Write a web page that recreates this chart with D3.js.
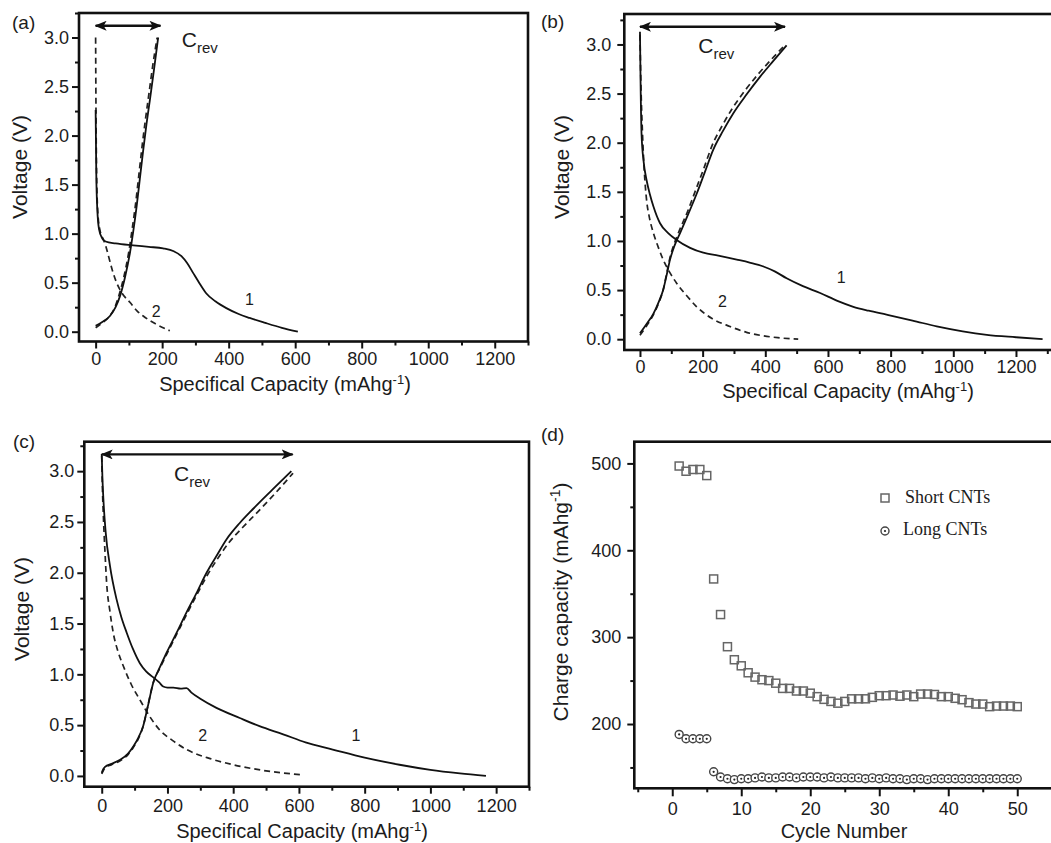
<!DOCTYPE html>
<html lang="en">
<head>
<meta charset="UTF-8">
<title>Charge-discharge curves and cycling</title>
<script src="https://d3js.org/d3.v7.min.js"></script>
<style>
  body {margin: 0; background: #fff;}
  svg text {font-family: "Liberation Sans", Arial, sans-serif; fill: #1c1c1c;}
  .legend text {font-family: "Liberation Serif", "Times New Roman", serif;}
</style>
</head>
<body>
<script>
// ---- data: [capacity (mAh/g), voltage (V)] ----
// panel (a)
var aDischarge1 = [[0,2.26],[2,1.6],[5,1.25],[10,1.05],[20,0.95],[30,0.92],[60,0.9],[113,0.88],[160,0.865],[203,0.85],[235,0.82],[258,0.77],[275,0.7],[293,0.6],[313,0.49],[333,0.39],[360,0.31],[393,0.24],[430,0.18],[463,0.14],[510,0.09],[560,0.04],[608,0.0]];
var aCharge1 = [[0,0.06],[20,0.1],[43,0.16],[60,0.25],[73,0.36],[88,0.55],[103,0.8],[113,1.02],[123,1.27],[133,1.56],[143,1.85],[153,2.12],[163,2.36],[175,2.66],[188,3.0]];
var aDischarge2 = [[0,3.0],[1,2.3],[3,1.6],[6,1.25],[12,1.05],[22,0.95],[30,0.88],[38,0.78],[50,0.63],[63,0.5],[80,0.39],[103,0.3],[125,0.21],[143,0.16],[180,0.08],[223,0.01]];
var aCharge2 = [[0,0.04],[20,0.09],[40,0.15],[58,0.25],[70,0.37],[85,0.56],[100,0.82],[110,1.05],[120,1.3],[130,1.6],[140,1.9],[150,2.17],[160,2.42],[172,2.72],[185,3.0]];

// panel (b)
var bDischarge1 = [[0,3.13],[2,2.6],[5,2.09],[12,1.8],[21,1.62],[32,1.47],[43,1.35],[64,1.18],[90,1.08],[117,1.01],[160,0.93],[202,0.88],[250,0.85],[309,0.81],[350,0.78],[394,0.74],[430,0.69],[468,0.62],[520,0.54],[575,0.47],[630,0.39],[681,0.33],[730,0.29],[787,0.25],[870,0.19],[947,0.13],[1030,0.08],[1107,0.045],[1200,0.02],[1285,0.0]];
var bCharge1 = [[0,0.06],[20,0.15],[43,0.26],[60,0.38],[74,0.5],[85,0.65],[96,0.81],[110,0.95],[128,1.08],[155,1.28],[181,1.48],[207,1.7],[234,1.93],[265,2.12],[298,2.3],[340,2.49],[383,2.67],[425,2.83],[468,2.99]];
var bDischarge2 = [[0,3.1],[3,2.6],[8,2.1],[14,1.7],[21,1.42],[30,1.24],[43,1.08],[58,0.94],[74,0.81],[95,0.68],[117,0.57],[150,0.44],[181,0.33],[230,0.21],[287,0.13],[340,0.07],[383,0.04],[440,0.015],[505,0.0]];
var bCharge2 = [[0,0.04],[20,0.13],[43,0.25],[60,0.37],[74,0.5],[84,0.65],[95,0.82],[108,0.96],[125,1.1],[152,1.3],[178,1.52],[204,1.74],[230,1.97],[262,2.17],[295,2.35],[335,2.53],[378,2.7],[420,2.85],[465,3.0]];

// panel (c)
var cDischarge1 = [[0,3.17],[2,2.95],[5,2.73],[12,2.4],[25,2.07],[45,1.74],[60,1.56],[76,1.41],[95,1.25],[116,1.11],[135,1.03],[157,0.97],[175,0.92],[187,0.88],[200,0.87],[218,0.87],[240,0.86],[258,0.865],[273,0.82],[300,0.76],[349,0.67],[420,0.57],[480,0.49],[552,0.41],[620,0.33],[703,0.26],[800,0.18],[906,0.11],[1000,0.06],[1090,0.025],[1169,0.0]];
var cCharge1 = [[0,0.03],[5,0.07],[10,0.09],[30,0.12],[56,0.16],[80,0.22],[96,0.29],[112,0.38],[126,0.49],[140,0.68],[157,0.92],[177,1.07],[197,1.21],[228,1.41],[258,1.61],[290,1.81],[319,2.0],[350,2.17],[380,2.33],[420,2.49],[461,2.63],[520,2.82],[577,3.0]];
var cDischarge2 = [[0,3.15],[2,2.85],[5,2.56],[10,2.2],[15,1.9],[25,1.62],[35,1.41],[50,1.22],[66,1.08],[90,0.9],[116,0.75],[145,0.59],[177,0.45],[215,0.35],[258,0.26],[330,0.17],[400,0.11],[500,0.05],[612,0.01]];
var cCharge2 = [[0,0.02],[10,0.08],[30,0.11],[56,0.15],[80,0.21],[96,0.28],[112,0.37],[127,0.5],[141,0.7],[157,0.92],[177,1.06],[198,1.2],[229,1.4],[260,1.6],[292,1.8],[322,1.98],[355,2.15],[388,2.3],[430,2.45],[475,2.6],[530,2.79],[582,2.98]];

// tick values for the voltage panels
var capTicks = [0, 200, 400, 600, 800, 1000, 1200];
var capMinorTicks = [100, 300, 500, 700, 900, 1100, 1300];
var voltTicks = [0, 0.5, 1.0, 1.5, 2.0, 2.5, 3.0];
var voltMinorTicks = [0.25, 0.75, 1.25, 1.75, 2.25, 2.75, 3.25];

// panel (d): cycling
var cycles = [1,2,3,4,5,6,7,8,9,10,11,12,13,14,15,16,17,18,19,20,21,22,23,24,25,26,27,28,29,30,31,32,33,34,35,36,37,38,39,40,41,42,43,44,45,46,47,48,49,50];
var shortCnts = [497,491,493,493,486,367,326,289,274,267,259,254,251,250,247,241,241,238,238,235.5,231.5,228.4,226,224,226,229,229,229,230.7,232.6,232.6,233.4,232,233.4,231.5,234.5,234.5,234,231.5,231.5,229.6,228,224.6,223,223,220,220.7,220.7,220.7,220];
var longCnts = [188,183,183,183,183,145,139,137,136,137,137,138,139,138,138,139,139,138,139,139,139,138,139,138,138,138,138,137,138,137,138,137,137,136,137,137,136,137,137,137,137,137,137,137,137,137,137,137,137,137];
var cycleTicks = [0, 10, 20, 30, 40, 50];
var cycleMinorTicks = [-5, 5, 15, 25, 35, 45, 55];
var chargeTicks = [200, 300, 400, 500];
var chargeMinorTicks = [150, 250, 350, 450];

var svg = d3.select("body").append("svg")
    .attr("width", 1051)
    .attr("height", 843);

svg.append("rect").attr("width", 1051).attr("height", 843).attr("fill", "#fff");

// arrow head used by the C_rev arrows
svg.append("defs").append("marker")
    .attr("id", "head")
    .attr("viewBox", "0 0 12 10")
    .attr("refX", 11).attr("refY", 5)
    .attr("markerWidth", 12).attr("markerHeight", 10)
    .attr("markerUnits", "userSpaceOnUse")
    .attr("orient", "auto-start-reverse")
  .append("path")
    .attr("d", "M0,0 L12,5 L0,10 L3,5 Z")
    .attr("fill", "#111");

// draws the frame, ticks and titles of one panel
function drawFrame(p, x, y) {
    var g = svg.append("g");

    g.append("g")
        .attr("transform", "translate(0," + p.bottom + ")")
        .call(d3.axisBottom(x).tickValues(p.xTicks).tickSize(p.tick || 7).tickPadding(p.xPad || 6).tickFormat(d3.format("d")));
    g.append("g")
        .attr("transform", "translate(0," + p.bottom + ")")
        .call(d3.axisBottom(x).tickValues(p.xMinor).tickSize(4).tickFormat(""));
    g.append("g")
        .attr("transform", "translate(" + p.left + ",0)")
        .call(d3.axisLeft(y).tickValues(p.yTicks).tickSize(7).tickPadding(p.yPad).tickFormat(p.yFormat));
    g.append("g")
        .attr("transform", "translate(" + p.left + ",0)")
        .call(d3.axisLeft(y).tickValues(p.yMinor).tickSize(4).tickFormat(""));

    g.selectAll(".domain").remove();
    g.selectAll(".tick line").attr("stroke", "#111").attr("stroke-width", 2);
    g.selectAll(".tick text").attr("font-size", 18).attr("font-family", "Liberation Sans, Arial, sans-serif").attr("fill", "#1c1c1c");

    g.append("rect")
        .attr("x", p.left).attr("y", p.top)
        .attr("width", p.right - p.left).attr("height", p.bottom - p.top)
        .attr("fill", "none").attr("stroke", "#111").attr("stroke-width", 2.6);

    // panel letter
    g.append("text").attr("x", p.letterX).attr("y", p.letterY)
        .attr("font-size", 19).text(p.letter);

    // x title
    var xt = g.append("text").attr("x", p.xTitleX).attr("y", p.xTitleY)
        .attr("text-anchor", "middle").attr("font-size", 20);
    xt.append("tspan").text(p.xTitle);
    if (p.xTitleSup) {
        xt.append("tspan").attr("font-size", 13).attr("dy", -7).text(p.xTitleSup);
        xt.append("tspan").attr("dy", 7).text(")");
    }

    // y title
    var yt = g.append("text")
        .attr("transform", "translate(" + p.yTitleX + "," + p.yTitleY + ") rotate(-90)")
        .attr("text-anchor", "middle").attr("font-size", 21);
    yt.append("tspan").text(p.yTitle);
    if (p.yTitleSup) {
        yt.append("tspan").attr("font-size", 14).attr("dy", -8).text(p.yTitleSup);
        yt.append("tspan").attr("dy", 8).text(")");
    }
    return g;
}

function voltagePanel(p) {
    var x = d3.scaleLinear().domain(p.xDomain).range([p.left, p.right]);
    var y = d3.scaleLinear().domain(p.yDomain).range([p.bottom, p.top]);
    p.xTicks = capTicks; p.xMinor = capMinorTicks;
    p.yTicks = voltTicks; p.yMinor = voltMinorTicks;
    p.yFormat = d3.format(".1f");
    p.xTitle = "Specifical Capacity (mAhg"; p.xTitleSup = "-1";
    p.yTitle = "Voltage (V)";
    var g = drawFrame(p, x, y);

    var line = d3.line()
        .x(function(d){ return x(d[0]); })
        .y(function(d){ return y(d[1]); })
        .curve(d3.curveMonotoneX);

    [p.dis2, p.chg2].forEach(function(d){
        g.append("path").attr("d", line(d))
            .attr("fill", "none").attr("stroke", "#222")
            .attr("stroke-width", 1.7).attr("stroke-dasharray", "6,4");
    });
    [p.dis1, p.chg1].forEach(function(d){
        g.append("path").attr("d", line(d))
            .attr("fill", "none").attr("stroke", "#111")
            .attr("stroke-width", 1.8);
    });

    // C_rev arrow
    g.append("line")
        .attr("x1", x(0)).attr("x2", x(p.arrowEnd))
        .attr("y1", y(p.arrowV)).attr("y2", y(p.arrowV))
        .attr("stroke", "#111").attr("stroke-width", 2.4)
        .attr("marker-start", "url(#head)").attr("marker-end", "url(#head)");
    var c = g.append("text").attr("x", x(p.crev[0])).attr("y", y(p.crev[1])).attr("font-size", 21);
    c.append("tspan").text("C");
    c.append("tspan").attr("font-size", 15).attr("dy", 6).text("rev");

    g.append("text").attr("x", x(p.label1[0])).attr("y", y(p.label1[1])).attr("font-size", 16).text("1");
    g.append("text").attr("x", x(p.label2[0])).attr("y", y(p.label2[1])).attr("font-size", 16).text("2");
}

voltagePanel({
    left: 79, right: 528, top: 13, bottom: 341.5,
    xDomain: [-50, 1300], yDomain: [-0.1, 3.25], yPad: 3, xPad: 4,
    letter: "(a)", letterX: 12, letterY: 29,
    xTitleX: 285, xTitleY: 391, yTitleX: 27, yTitleY: 167,
    dis1: aDischarge1, chg1: aCharge1, dis2: aDischarge2, chg2: aCharge2,
    arrowEnd: 195, arrowV: 3.12, crev: [259, 2.9],
    label1: [449, 0.27], label2: [169, 0.15]
});

voltagePanel({
    left: 624.3, right: 1056.7, top: 14, bottom: 350,
    xDomain: [-50, 1330], yDomain: [-0.11, 3.31], yPad: 6, xPad: 3,
    letter: "(b)", letterX: 541, letterY: 28,
    xTitleX: 848, xTitleY: 398, yTitleX: 569, yTitleY: 167,
    dis1: bDischarge1, chg1: bCharge1, dis2: bDischarge2, chg2: bCharge2,
    arrowEnd: 463, arrowV: 3.18, crev: [186, 2.91],
    label1: [628, 0.57], label2: [249, 0.33]
});

voltagePanel({
    left: 84.3, right: 529, top: 441.7, bottom: 786.7,
    xDomain: [-53, 1300], yDomain: [-0.106, 3.29], yPad: 3,
    letter: "(c)", letterX: 13, letterY: 448,
    xTitleX: 302, xTitleY: 838, yTitleX: 29, yTitleY: 609,
    dis1: cDischarge1, chg1: cCharge1, dis2: cDischarge2, chg2: cCharge2,
    arrowEnd: 581, arrowV: 3.165, crev: [220, 2.9],
    label1: [760, 0.34], label2: [294, 0.34]
});

// panel (d)
(function(){
    var p = {
        left: 634.3, right: 1055.2, top: 441.7, bottom: 788.3, tick: 8,
        xTicks: cycleTicks, xMinor: cycleMinorTicks,
        yTicks: chargeTicks, yMinor: chargeMinorTicks, yPad: 6, yFormat: d3.format("d"),
        letter: "(d)", letterX: 541, letterY: 441,
        xTitle: "Cycle Number", xTitleX: 844, xTitleY: 838,
        yTitle: "Charge capacity (mAhg", yTitleSup: "-1", yTitleX: 568, yTitleY: 602
    };
    var x = d3.scaleLinear().domain([-5.5, 55.5]).range([p.left, p.right]);
    var y = d3.scaleLinear().domain([126, 525]).range([p.bottom, p.top]);
    var g = drawFrame(p, x, y);

    g.selectAll("rect.short")
        .data(cycles)
        .enter().append("rect")
        .attr("class", "short")
        .attr("x", function(d){ return x(d) - 4; })
        .attr("y", function(d, i){ return y(shortCnts[i]) - 4; })
        .attr("width", 8).attr("height", 8)
        .attr("fill", "none").attr("stroke", "#666").attr("stroke-width", 1.5);

    var longG = g.selectAll("g.long")
        .data(cycles)
        .enter().append("g")
        .attr("class", "long")
        .attr("transform", function(d, i){ return "translate(" + x(d) + "," + y(longCnts[i]) + ")"; });
    longG.append("circle").attr("r", 4).attr("fill", "#fff").attr("stroke", "#444").attr("stroke-width", 1.4);
    longG.append("circle").attr("r", 1.1).attr("fill", "#222");

    var lg = g.append("g").attr("class", "legend");
    lg.append("rect").attr("x", 881).attr("y", 494).attr("width", 8).attr("height", 8)
        .attr("fill", "none").attr("stroke", "#666").attr("stroke-width", 1.5);
    lg.append("text").attr("x", 905).attr("y", 503).attr("font-size", 18).text("Short CNTs");
    lg.append("circle").attr("cx", 885).attr("cy", 531).attr("r", 4)
        .attr("fill", "#fff").attr("stroke", "#444").attr("stroke-width", 1.4);
    lg.append("circle").attr("cx", 885).attr("cy", 531).attr("r", 1.1).attr("fill", "#222");
    lg.append("text").attr("x", 903).attr("y", 535).attr("font-size", 18).text("Long CNTs");
})();
</script>
</body>
</html>
